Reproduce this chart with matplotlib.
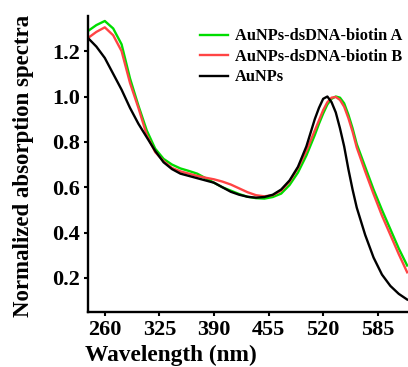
import numpy as np
import matplotlib
matplotlib.use('Agg')
import matplotlib.pyplot as plt

plt.rcParams['font.family'] = 'Liberation Serif'
plt.rcParams['font.weight'] = 'bold'

wavelength = [240, 250, 260, 270, 280, 290, 300, 310, 320, 330, 340, 350, 360, 370, 380,
              390, 400, 410, 420, 430, 440, 450, 460, 470, 480, 490, 500, 505, 510, 515,
              520, 525, 530, 535, 540, 545, 550, 555, 560, 570, 580, 590, 600, 610, 620]

biotin_a = [1.289, 1.315, 1.333, 1.30, 1.23, 1.08, 0.96, 0.85, 0.77, 0.725, 0.70, 0.683, 0.672, 0.66, 0.64,
            0.62, 0.60, 0.585, 0.57, 0.558, 0.552, 0.55, 0.557, 0.572, 0.61, 0.665, 0.74, 0.785, 0.83, 0.88,
            0.925, 0.965, 0.99, 1.0, 0.995, 0.97, 0.92, 0.86, 0.79, 0.69, 0.59, 0.50, 0.415, 0.33, 0.255]

biotin_b = [1.258, 1.285, 1.305, 1.27, 1.20, 1.06, 0.95, 0.83, 0.755, 0.715, 0.685, 0.67, 0.66, 0.65, 0.642,
            0.635, 0.625, 0.612, 0.595, 0.578, 0.565, 0.56, 0.565, 0.585, 0.625, 0.685, 0.76, 0.805, 0.85, 0.895,
            0.94, 0.975, 0.995, 0.998, 0.985, 0.955, 0.905, 0.845, 0.775, 0.67, 0.57, 0.475, 0.39, 0.305, 0.225]

aunps = [1.258, 1.22, 1.17, 1.10, 1.03, 0.95, 0.88, 0.82, 0.76, 0.71, 0.68, 0.66, 0.65, 0.64, 0.63,
         0.62, 0.60, 0.58, 0.567, 0.558, 0.554, 0.557, 0.567, 0.59, 0.63, 0.69, 0.78, 0.84, 0.90, 0.95,
         0.99, 1.0, 0.975, 0.93, 0.86, 0.78, 0.68, 0.59, 0.51, 0.39, 0.29, 0.215, 0.165, 0.13, 0.105]

xticks = [260, 325, 390, 455, 520, 585]
yticks = [0.2, 0.4, 0.6, 0.8, 1.0, 1.2]

fig = plt.figure(figsize=(4.08, 3.67), dpi=100)
ax = fig.add_axes([88/408, 1-312/367, 320/408, 296/367])

ax.plot(wavelength, biotin_a, color='#00dd00', lw=1.7, label='AuNPs-dsDNA-biotin A')
ax.plot(wavelength, biotin_b, color='#ff4444', lw=1.7, label='AuNPs-dsDNA-biotin B')
ax.plot(wavelength, aunps, color='black', lw=1.7, label='AuNPs')

ax.set_xlim(240, 621)
ax.set_ylim(0.05, 1.355)
ax.set_xticks(xticks)
ax.set_yticks(yticks)
ax.set_yticklabels(['%.1f' % v for v in yticks])

for s in ['top', 'right']:
    ax.spines[s].set_visible(False)
for s in ['left', 'bottom']:
    ax.spines[s].set_linewidth(1.7)
ax.tick_params(direction='out', length=3, width=1.5, labelsize=16, pad=3)

ax.set_xlabel('Wavelength (nm)', fontsize=16.8, fontweight='bold')
ax.xaxis.set_label_coords((171-88)/320, -0.112)
ax.set_ylabel('Normalized absorption spectra', fontsize=16.5, fontweight='bold')
ax.yaxis.set_label_coords(-0.169, 0.495)

leg = ax.legend(loc='upper left', bbox_to_anchor=(0.35, 0.958), frameon=False,
                prop={'weight': 'bold', 'size': 11.8}, handlelength=1.7, handletextpad=0.45,
                labelspacing=0.27, borderaxespad=0, borderpad=0)

fig.savefig('out.png', dpi=100)
